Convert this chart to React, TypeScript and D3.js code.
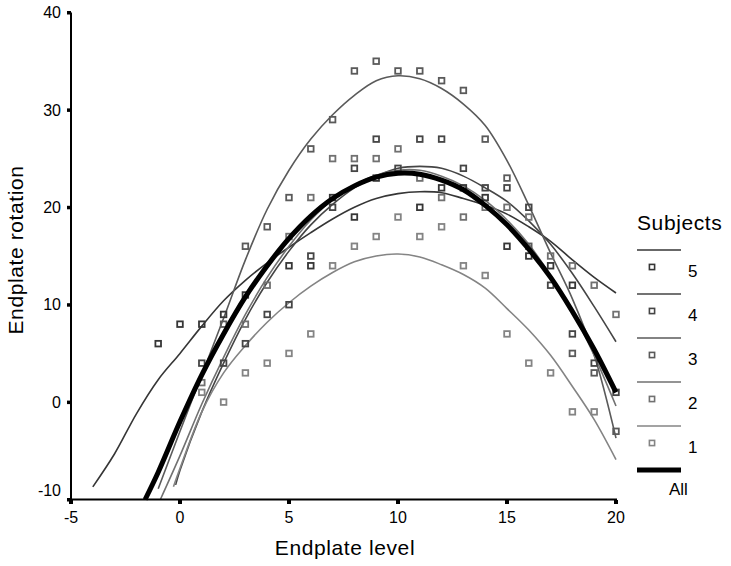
import React from "react";
import * as d3 from "d3";

// ---- data ----
const xTicks = [-5, 0, 5, 10, 15, 20];
const yTicks = [-10, 0, 10, 20, 30, 40];
const subjects = ["5", "4", "3", "2", "1"];
const subjectColors = ["#363636", "#454545", "#5a5a5a", "#717171", "#848484"];

const subject5Points: [number, number][] = [[-1, 6], [0, 8], [1, 8], [2, 9], [3, 11], [5, 14], [6, 14], [7, 21], [8, 19], [9, 23], [11, 20], [12, 22], [13, 22], [14, 21], [15, 16], [16, 15], [17, 14], [18, 12]];
const subject4Points: [number, number][] = [[1, 4], [2, 4], [3, 6], [4, 9], [5, 10], [6, 15], [7, 20], [8, 24], [9, 27], [10, 24], [11, 27], [12, 27], [13, 24], [14, 22], [15, 22], [16, 20], [17, 12], [18, 7], [19, 4], [20, 1]];
const subject3Points: [number, number][] = [[2, 8], [3, 16], [4, 18], [5, 21], [6, 26], [7, 29], [8, 34], [9, 35], [10, 34], [11, 34], [12, 33], [13, 32], [14, 27], [15, 23], [16, 16], [18, 5], [19, 3], [20, -3]];
const subject2Points: [number, number][] = [[1, 2], [3, 8], [4, 12], [5, 17], [6, 21], [7, 25], [8, 25], [9, 25], [10, 26], [11, 23], [12, 21], [13, 19], [14, 20], [15, 20], [16, 19], [17, 15], [18, 14], [19, 12], [20, 9]];
const subject1Points: [number, number][] = [[1, 1], [2, 0], [3, 3], [4, 4], [5, 5], [6, 7], [7, 14], [8, 16], [9, 17], [10, 19], [11, 17], [12, 18], [13, 14], [14, 13], [15, 7], [16, 4], [17, 3], [18, -1], [19, -1]];

const subject5Fit: [number, number][] = [[-4, -8.7], [-3, -5.3], [-2, -1.2], [-1, 2.3], [0, 5], [1, 7.8], [2, 10.4], [3, 12.5], [4, 14.3], [5, 15.9], [6, 17.4], [7, 18.8], [8, 20], [9, 20.9], [10, 21.4], [11, 21.6], [12, 21.5], [13, 20.9], [14, 20.2], [15, 19.3], [16, 18], [17, 16.5], [18, 14.6], [19, 12.8], [20, 11.2]];
const subject4Fit: [number, number][] = [[-0.2, -8.5], [0, -7], [1, -1], [2, 4], [3, 8.5], [4, 12.3], [5, 15.5], [6, 18.2], [7, 20.3], [8, 22], [9, 23.2], [10, 24], [11, 24.2], [12, 24], [13, 23.2], [14, 22], [15, 20.6], [16, 18.6], [17, 16.2], [18, 13.2], [19, 9.8], [20, 6.2]];
const subject3Fit: [number, number][] = [[-1, -8.9], [0, -3], [1, 2.8], [2, 8.6], [3, 14.6], [4, 19.8], [5, 23.8], [6, 27], [7, 29.5], [8, 31.5], [9, 33], [10, 33.5], [11, 33.2], [12, 32.2], [13, 30.6], [14, 28.4], [15, 24.8], [16, 20.2], [17, 15.3], [18, 10.6], [19, 4.8], [20, -3.7]];
const subject2Fit: [number, number][] = [[-0.9, -10], [0, -5.5], [1, -0.2], [2, 4.6], [3, 9], [4, 12.8], [5, 16], [6, 18.7], [7, 20.8], [8, 22.3], [9, 23.3], [10, 23.8], [11, 23.8], [12, 23.2], [13, 22.2], [14, 20.7], [15, 18.7], [16, 16.2], [17, 13], [18, 9.3], [19, 4.8], [20, -0.4]];
const subject1Fit: [number, number][] = [[-0.3, -8.7], [0, -6.8], [1, -1], [2, 3], [3, 5.8], [4, 8.2], [5, 10.2], [6, 11.9], [7, 13.3], [8, 14.4], [9, 15], [10, 15.2], [11, 14.9], [12, 14.1], [13, 13.1], [14, 11.7], [15, 9.6], [16, 7.4], [17, 4.8], [18, 1.6], [19, -1.8], [20, -5.9]];
const allFit: [number, number][] = [[-1.6, -10], [-1, -7.2], [0, -2], [1, 2.8], [2, 7], [3, 10.8], [4, 14], [5, 16.8], [6, 19.1], [7, 20.9], [8, 22.2], [9, 23.1], [10, 23.5], [11, 23.4], [12, 22.8], [13, 21.8], [14, 20.2], [15, 18.2], [16, 15.7], [17, 12.8], [18, 9.3], [19, 5.4], [20, 1]];

const subjectPoints = [subject5Points, subject4Points, subject3Points, subject2Points, subject1Points];
const subjectFits = [subject5Fit, subject4Fit, subject3Fit, subject2Fit, subject1Fit];

export default function App() {
  const W = 731, H = 566;
  const x = d3.scaleLinear().domain([-5, 20]).range([71, 616]);
  const y = d3.scaleLinear().domain([-10, 40]).range([499.5, 12.5]);
  const line = d3.line<[number, number]>().x(d => x(d[0])).y(d => y(d[1])).curve(d3.curveCatmullRom);
  const font = "'Liberation Sans', Arial, sans-serif";
  const sq = 5.6;
  const legendY = [250, 294, 338, 382, 426];

  return (
    <svg width={W} height={H} style={{ position: "absolute", left: 0, top: 0, background: "#fff" }} fontFamily={font}>
      {/* fitted curves */}
      {subjectFits.map((f, i) => (
        <path key={"f" + i} d={line(f) || ""} fill="none" stroke={subjectColors[i]} strokeWidth={1.6} />
      ))}
      {/* points */}
      {subjectPoints.map((pts, i) =>
        pts.map((p, j) => (
          <rect key={"p" + i + "-" + j} x={x(p[0]) - sq / 2} y={y(p[1]) - sq / 2} width={sq} height={sq}
            fill="#fff" fillOpacity={0} stroke={subjectColors[i]} strokeWidth={1.8} />
        ))
      )}
      <path d={line(allFit) || ""} fill="none" stroke="#000" strokeWidth={5} />

      {/* axes */}
      <line x1={71} x2={71} y1={y(40)} y2={499.5} stroke="#000" strokeWidth={2} />
      <line x1={70} x2={617} y1={499.5} y2={499.5} stroke="#000" strokeWidth={2} />
      {yTicks.map(t => (
        <g key={"yt" + t}>
          <rect x={67} y={y(t) - 1.5} width={4} height={3.5} fill="#000" />
          <text x={61} y={Math.min(y(t), 490)} dy="0.36em" textAnchor="end" fontSize={16}>{t}</text>
        </g>
      ))}
      {xTicks.map(t => (
        <g key={"xt" + t}>
          <rect x={x(t) - 2} y={500} width={4} height={4} fill="#000" />
          <text x={x(t)} y={523} textAnchor="middle" fontSize={16}>{t}</text>
        </g>
      ))}
      <text x={345} y={555} textAnchor="middle" fontSize={21} letterSpacing={0.6}>Endplate level</text>
      <text transform="translate(23,250) rotate(-90)" textAnchor="middle" fontSize={21} letterSpacing={0.6}>Endplate rotation</text>

      {/* legend */}
      <text x={637} y={230} fontSize={21} letterSpacing={0.6}>Subjects</text>
      {subjects.map((s, i) => (
        <g key={"lg" + s}>
          <line x1={637} x2={681} y1={legendY[i]} y2={legendY[i]} stroke={subjectColors[i]} strokeWidth={1.6} />
          <rect x={652 - 2.6} y={legendY[i] + 17 - 2.6} width={5.2} height={5.2} fill="none" stroke={subjectColors[i]} strokeWidth={1.6} />
          <text x={688} y={legendY[i] + 27} fontSize={17}>{s}</text>
        </g>
      ))}
      <line x1={637} x2={681} y1={470} y2={470} stroke="#000" strokeWidth={5} />
      <text x={669} y={495} fontSize={17}>All</text>
    </svg>
  );
}
